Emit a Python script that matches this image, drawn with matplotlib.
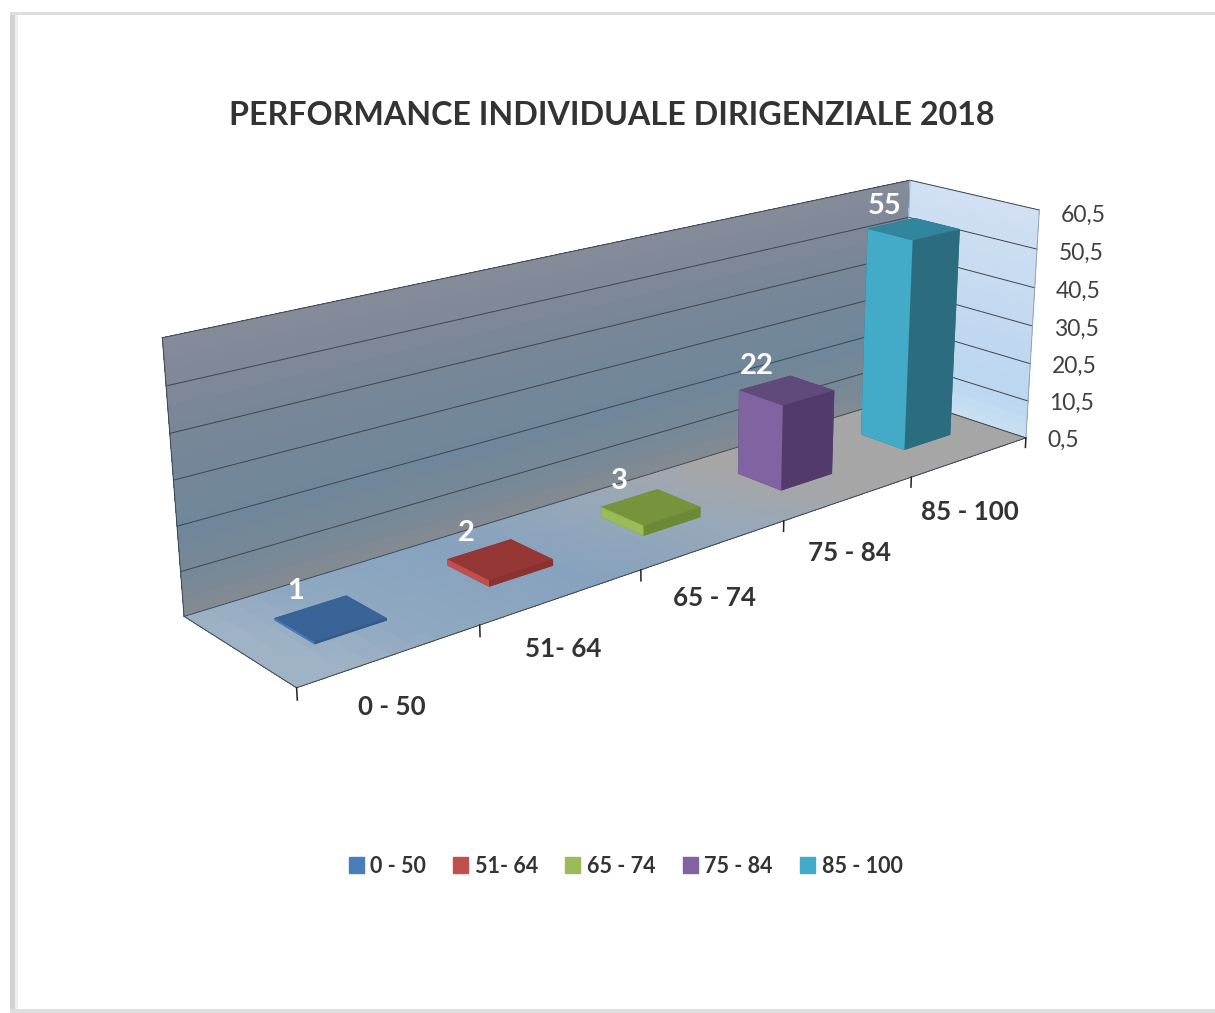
import numpy as np
import matplotlib
matplotlib.use("Agg")
import matplotlib.pyplot as plt
from matplotlib.colors import to_rgba
from matplotlib.patches import Patch, Rectangle

plt.rcParams['font.family'] = ['Lato', 'DejaVu Sans']

# Data
categories = ['0 - 50', '51- 64', '65 - 74', '75 - 84', '85 - 100']
values = [1, 2, 3, 22, 55]
z_ticks = [0.5, 10.5, 20.5, 30.5, 40.5, 50.5, 60.5]
z_labels = ['0,5', '10,5', '20,5', '30,5', '40,5', '50,5', '60,5']
title = 'PERFORMANCE INDIVIDUALE DIRIGENZIALE 2018'

# Colours of each bar: legend/left face, top, right face
front_colors = ['#4a7ebb', '#c0504d', '#9bbb59', '#8064a2', '#43aac8']
top_colors = ['#3a6497', '#953735', '#77933c', '#604a7b', '#31859c']
side_colors = ['#34598a', '#8a3230', '#6c8a35', '#523b6c', '#2b6d7e']

W, H = 1215, 1013
Z0, Z1 = z_ticks[0], z_ticks[-1]
N = len(categories)

# Where the corners of the chart box fall in the image (x, y, z) -> (pixel x, pixel y)
box_corners = [(0, 0, Z0), (N, 0, Z0), (0, 1, Z0), (N, 1, Z0), (0, 1, Z1), (N, 1, Z1), (N, 0, Z1)]
box_pixels = [(297, 689), (1023, 437), (183, 615), (905, 398), (163, 338), (907, 180), (1042, 210)]

fig = plt.figure(figsize=(W / 100, H / 100), dpi=100, facecolor='white')
ax = fig.add_axes([0, 0, 1, 1], projection='3d', computed_zorder=False)
ax.set_axis_off()
ax.patch.set_alpha(0)
ax.set_xticks([])
ax.set_yticks([])
ax.set_zticks([])


# Camera of the old Excel chart: solved from the box corners, mplot3d only has a rotating one
def excel_camera():
    pix = np.array(box_pixels, dtype=float)
    pix[:, 1] = H - pix[:, 1]
    view = ax.transData.inverted().transform(pix)
    scale = np.diag([1 / N, 1, 1 / Z1, 1])
    rows = []
    for (x, y, z), (u, v) in zip(box_corners, view):
        p = scale @ np.array([x, y, z, 1.0])
        rows.append(np.r_[p, 0, 0, 0, 0, -u * p])
        rows.append(np.r_[0, 0, 0, 0, p, -v * p])
    vt = np.linalg.svd(np.array(rows))[2]
    cam = vt[-1].reshape(3, 4) @ scale
    if cam[2] @ np.array([N / 2, 0.5, Z1 / 2, 1]) < 0:
        cam = -cam
    return np.array([cam[0], cam[1], [0, 0, 0, -1.0], cam[2]])


ax.get_proj = excel_camera


def ramp(positions, colors, t):
    rgb = np.array([to_rgba(c) for c in colors])
    return np.stack([np.interp(t, positions, rgb[:, k]) for k in range(4)], axis=-1)


# Text at a point of the chart box, put on the figure once the point is projected
def box_text(x, y, z, s, **kw):
    ax.apply_aspect()
    p = excel_camera() @ np.array([x, y, z, 1.0])
    px = ax.transData.transform((p[0] / p[3], p[1] / p[3]))
    fig.text(px[0] / W, px[1] / H, s, va='center', **kw)


# Walls and floor with their gradients
zz = np.linspace(Z0, Z1, 31)
xx = np.linspace(0, N, 41)
yy = np.linspace(0, 1, 3)

XW, ZW = np.meshgrid(xx, zz)
wall_c = ramp([0, 0.08, 0.3, 0.65, 1], ['#838a92', '#7a8996', '#6f879a', '#788698', '#868b99'],
              (ZW[:-1, :-1] - Z0) / (Z1 - Z0))
ax.plot_surface(XW, np.ones_like(XW), ZW, facecolors=wall_c, shade=False, linewidth=0,
                antialiased=False, rcount=40, ccount=50, zorder=1)

YS, ZS = np.meshgrid(yy, zz)
side_c = ramp([0, 0.12, 0.4, 1], ['#c8dff2', '#bcd7ee', '#c0d8ef', '#d2e0f3'],
              (ZS[:-1, :-1] - Z0) / (Z1 - Z0))
ax.plot_surface(np.full_like(YS, N), YS, ZS, facecolors=side_c, shade=False, linewidth=0,
                antialiased=False, rcount=40, ccount=10, zorder=1)

XF, YF = np.meshgrid(xx, np.linspace(0, 1, 11))
floor_c = ramp([0, 0.5, 1.5, 2.5, 3.3, 5], ['#a0b3c6', '#90a9c1', '#87a2be', '#98a8b8', '#a6a6a6', '#a6a6a6'],
               XF[:-1, :-1] + 0.35 * (YF[:-1, :-1] - 0.5))
ax.plot_surface(XF, YF, np.full_like(XF, Z0), facecolors=floor_c, shade=False, linewidth=0,
                antialiased=False, rcount=20, ccount=50, zorder=1)

# Grid lines and edges
line_col = '#3c4650'
for z in z_ticks:
    ax.plot([0, N, N], [1, 1, 0], [z, z, z], color=line_col, lw=0.7, zorder=2)
ax.plot([0, 0, N], [1, 0, 0], [Z0, Z0, Z0], color=line_col, lw=0.7, zorder=2)
ax.plot([0, 0], [1, 1], [Z0, Z1], color=line_col, lw=0.7, zorder=2)
ax.plot([N, N], [0, 0], [Z0, Z1], color='#8fa3b8', lw=0.7, zorder=2)
ax.plot([N, N], [1, 1], [Z0, Z1], color='#8fa3b8', lw=0.7, zorder=2)

# Category ticks
for i in range(N + 1):
    ax.plot([i, i], [0, 0], [Z0, Z0 - 2.6], color='#222222', lw=1.1, zorder=2)

# Bars (bar3d face order: -z, +z, -y, +y, -x, +x)
for i, v in enumerate(values):
    face_cols = [side_colors[i], top_colors[i], side_colors[i], side_colors[i], front_colors[i], side_colors[i]]
    ax.bar3d(i + 0.3, 0.33, Z0, 0.4, 0.35, v - Z0, color=face_cols, shade=False,
             linewidth=0, zorder=3 + N - i)

# Value labels
for i, v in enumerate(values):
    box_text(i + 0.47 + 0.015 * i, 0.765, v + 2.6 + 0.25 * i, str(v), color='white', fontsize=21,
             fontweight='bold', ha='center')

# Category labels
for i, c in enumerate(categories):
    box_text(i + 0.46, -0.05, Z0 - 10 - 0.95 * i, c, color='#333333', fontsize=18.7, fontweight='bold',
             ha='center')

# Value axis labels
for z, s in zip(z_ticks, z_labels):
    box_text(N + 0.2, 0, z - 2.6, s, color='#404040', fontsize=16.5, ha='left')

fig.text(612 / W, 1 - 115 / H, title, color='#333333', fontsize=23.2, fontweight='bold',
         ha='center', va='center')

handles = [Patch(color=c) for c in front_colors]
fig.legend(handles, categories, loc='center', bbox_to_anchor=(625.5 / W, 1 - 866 / H), ncol=N, frameon=False,
           handlelength=0.7, handleheight=0.7, handletextpad=0.3, columnspacing=1.27,
           prop={'size': 15.5, 'weight': 'bold'}, labelcolor='#333333')

# Frame around the picture
for x, y, w, h, col in [(10, 12, 5, 1000, '#d2d2d2'), (15, 15, 3, 994, '#f0f0f0'),
                        (10, 12, W - 10, 3, '#dedede'), (10, 1009, W - 10, 4, '#dedede')]:
    fig.add_artist(Rectangle((x / W, 1 - (y + h) / H), w / W, h / H, transform=fig.transFigure,
                             facecolor=col, edgecolor='none'))

fig.savefig('out.png', dpi=100)
